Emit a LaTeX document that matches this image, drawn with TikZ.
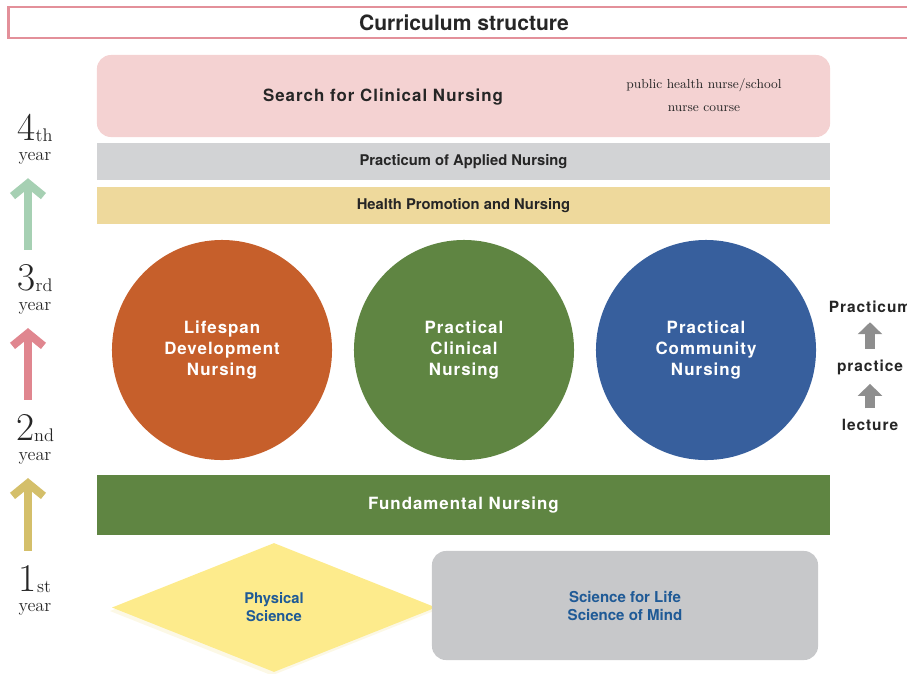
\documentclass[tikz,border=0pt]{standalone}
\usepackage{fontspec}
\setsansfont{TeX Gyre Heros}
\newfontfamily\widesf[LetterSpace=6]{TeX Gyre Heros}
\usetikzlibrary{arrows.meta,shapes.geometric,shadows}

\definecolor{titlepink}{HTML}{E3909A}
\definecolor{searchpink}{HTML}{F4D2D2}
\definecolor{applygray}{HTML}{D2D3D5}
\definecolor{healthyellow}{HTML}{EED99C}
\definecolor{lifeorange}{HTML}{C65F2B}
\definecolor{clingreen}{HTML}{5F8542}
\definecolor{commblue}{HTML}{375F9D}
\definecolor{sciyellow}{HTML}{FDEB8C}
\definecolor{mindgray}{HTML}{C7C8CA}
\definecolor{sciblue}{HTML}{1F5A96}
\definecolor{inkgray}{HTML}{262626}
\definecolor{stepgray}{HTML}{8E8E8E}
\definecolor{greenarrow}{HTML}{A6D0B3}
\definecolor{pinkarrow}{HTML}{E0868F}
\definecolor{olivearrow}{HTML}{D4BF6A}

\newcommand{\yearmark}[2]{{\fontsize{28}{28}\selectfont #1}\raisebox{-1pt}{#2}\\year}

\begin{document}
\begin{tikzpicture}[x=0.025cm, y=-0.025cm,
  bar/.style={rectangle, minimum width=18.325cm, inner sep=0pt},
  ball/.style={circle, minimum size=5.5cm, inner sep=0pt, text=white, align=center,
    font=\widesf\bfseries\fontsize{12}{15.2}\selectfont},
  yearlabel/.style={align=center, inner sep=0pt, text=inkgray, font=\fontsize{13}{14}\selectfont},
  yeararrow/.style={line width=5.7pt, -{Straight Barb[length=9pt, width=22pt]},
    shorten <=10pt, shorten >=10pt},
  steplabel/.style={inner sep=0pt, text=inkgray, font=\widesf\bfseries\fontsize{11}{13}\selectfont},
  steparrow/.style={draw=stepgray, line width=7.8pt, -{Triangle[length=8.5pt, width=17pt]},
    shorten <=7.5pt, shorten >=6.5pt},
  ]
\useasboundingbox (0,0) rectangle (907,673);

\node[draw=titlepink, line width=2.1pt, minimum width=22.75cm, minimum height=0.775cm,
  text=inkgray, font=\sffamily\bfseries\fontsize{15}{18}\selectfont] (title) at (464,22.5) {Curriculum structure};

\node[fill=searchpink, rounded corners=0.35cm, minimum width=18.325cm, minimum height=2.05cm] (search) at (463.5,96) {};
\node[text=inkgray, font=\widesf\bfseries\fontsize{12}{14}\selectfont] (clinical) at (383,97) {Search for Clinical Nursing};
\node[align=center, text=inkgray, font=\fontsize{9.3}{16.3}\selectfont] (course) at (704,95.5) {public health nurse/school\\nurse course};

\node[bar, fill=applygray, minimum height=0.925cm, text=inkgray,
  font=\sffamily\bfseries\fontsize{10.5}{12}\selectfont] (applied) at (463.5,161.5) {Practicum of Applied Nursing};
\node[bar, fill=healthyellow, minimum height=0.925cm, text=inkgray,
  font=\sffamily\bfseries\fontsize{10.5}{12}\selectfont] (health) at (463.5,205.5) {Health Promotion and Nursing};

\node[ball, fill=lifeorange] (lifespan) at (222,350) {Lifespan\\Development\\Nursing};
\node[ball, fill=clingreen] (clinicalball) at (464,350) {Practical\\Clinical\\Nursing};
\node[ball, fill=commblue] (community) at (706,350) {Practical\\Community\\Nursing};

\node[bar, fill=clingreen, minimum height=1.5cm, text=white,
  font=\widesf\bfseries\fontsize{12}{14}\selectfont] (fundamental) at (463.5,505) {Fundamental Nursing};

\node[diamond, fill=sciyellow, minimum width=8.1cm, minimum height=3.225cm, inner sep=0pt,
  align=center, text=sciblue, font=\sffamily\bfseries\fontsize{10.5}{12.8}\selectfont,
  drop shadow={shadow xshift=-1.5pt, shadow yshift=-2.5pt, fill=sciyellow!70!olivearrow, opacity=0.2}]
  (physical) at (274,607.5) {Physical\\Science};
\node[fill=mindgray, rounded corners=0.35cm, minimum width=9.65cm, minimum height=2.725cm,
  align=center, text=sciblue, font=\sffamily\bfseries\fontsize{10.7}{12.8}\selectfont]
  (life) at (625,605.5) {Science for Life\\Science of Mind};

\node[yearlabel] (y4) at (35,139) {\yearmark{4}{th}};
\node[yearlabel] (y3) at (35,289) {\yearmark{3}{rd}};
\node[yearlabel] (y2) at (35,439) {\yearmark{2}{nd}};
\node[yearlabel] (y1) at (35,590) {\yearmark{1}{st}};
\coordinate (axis) at (28,0);

\draw[yeararrow, draw=olivearrow] (y1.north -| axis) -- (y2.south -| axis);
\draw[yeararrow, draw=pinkarrow] (y2.north -| axis) -- (y3.south -| axis);
\draw[yeararrow, draw=greenarrow] (y3.north -| axis) -- (y4.south -| axis);

\node[steplabel] (practicum) at (870,307) {Practicum};
\node[steplabel] (practice) at (870,367) {practice};
\node[steplabel] (lecture) at (870,425) {lecture};

\draw[steparrow] (lecture) -- (practice);
\draw[steparrow] (practice) -- (practicum);
\end{tikzpicture}
\end{document}
